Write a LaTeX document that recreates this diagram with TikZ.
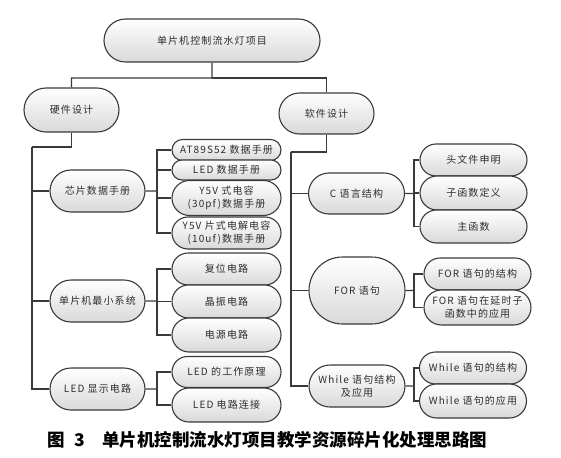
\documentclass[tikz,border=0pt]{standalone}
\usepackage{fontspec}
\setmainfont{Liberation Sans}
\newfontfamily\boxfont[LetterSpace=11]{Noto Sans CJK SC}
\newfontfamily\capfont{Noto Sans CJK SC}
\usetikzlibrary{shapes.misc}
\definecolor{mapLine}{HTML}{3A3A3A}
\definecolor{mapText}{HTML}{2E2E2E}
\definecolor{mapFill}{HTML}{D9D9D9}
\tikzset{
  mapNode/.style={rounded rectangle, draw=mapLine, line width=1.1pt, top color=white, bottom color=mapFill, text=mapText, font=\boxfont\fontsize{10pt}{13pt}\selectfont, align=center, inner xsep=2pt, inner ysep=0pt},
  rootNode/.style={mapNode, minimum width=220pt, minimum height=43pt},
  branchNode/.style={mapNode, minimum width=99pt, minimum height=#1},
  branchNode/.default=42pt,
  leafNode/.style={mapNode, minimum width=113pt, minimum height=#1},
  leafNode/.default=32pt,
  rightLeaf/.style={leafNode=#1, minimum width=111pt},
  link/.style={draw=mapLine, line width=1.1pt}
}

\begin{document}
\begin{tikzpicture}[x=1pt, y=-1pt]
  \useasboundingbox (0,0) rectangle (561,457);

  % Wurzel
  \node[rootNode] (root) at (212,40.5) {单片机控制流水灯项目};
  \node[branchNode=44pt] (hw) at (71.5,110) {硬件设计};
  \node[branchNode=41pt] (sw) at (326.5,113.5) {软件设计};

  % Hardware
  \node[branchNode] (chip) at (97.5,191) {芯片数据手册};
  \node[branchNode] (minsys) at (97.5,301) {单片机最小系统};
  \node[branchNode] (ledsys) at (97.5,389) {LED 显示电路};

  \node[leafNode=21pt] (at89) at (226.5,150) {AT89S52 数据手册};
  \node[leafNode=20pt] (ledman) at (226.5,170) {LED 数据手册};
  \node[leafNode=35pt] (cap30) at (226.5,198) {Y5V 式电容\\(30pf)数据手册};
  \node[leafNode=32pt] (cap10) at (226.5,233) {Y5V 片式电解电容\\(10uf)数据手册};
  \node[leafNode=32pt] (reset) at (226.5,269) {复位电路};
  \node[leafNode=33pt] (xtal) at (226.5,301.5) {晶振电路};
  \node[leafNode=34pt] (power) at (226.5,335) {电源电路};
  \node[leafNode=31pt] (ledwork) at (226.5,372) {LED 的工作原理};
  \node[leafNode=34pt] (ledconn) at (226.5,405) {LED 电路连接};

  % Software
  \node[branchNode=41pt, minimum width=100pt] (clang) at (356.5,193.5) {C 语言结构};
  \node[branchNode=67pt, minimum width=100pt] (forst) at (357,290.5) {FOR 语句};
  \node[branchNode=42pt, minimum width=100pt] (whilest) at (357,386) {While 语句结构\\及应用};

  \node[rightLeaf=32pt] (header) at (473.5,160) {头文件申明};
  \node[rightLeaf=34pt] (subfn) at (473.5,193) {子函数定义};
  \node[rightLeaf=33pt] (mainfn) at (473.5,226.5) {主函数};
  \node[rightLeaf=32pt] (forstruct) at (477.5,274) {FOR 语句的结构};
  \node[rightLeaf=35pt] (fordelay) at (477.5,307.5) {FOR 语句在延时子\\函数中的应用};
  \node[rightLeaf=32pt] (whstruct) at (473,368) {While 语句的结构};
  \node[rightLeaf=34pt] (whuse) at (473,401) {While 语句的应用};

  % Verbindungen
  \coordinate (topbus) at (212,78);
  \coordinate (hwbus) at (32,147);
  \coordinate (swbus) at (291,152);
  \draw[link] (root) -- (topbus) -| (hw);
  \draw[link] (topbus) -| (sw);
  \draw[link] (hw) |- (hwbus);
  \draw[link] (sw) |- (swbus);
  \foreach \n in {chip, minsys, ledsys}
    \draw[link] (hwbus) |- (\n);
  \foreach \n in {clang, forst, whilest}
    \draw[link] (swbus) |- (\n);

  \coordinate (chipfork) at (157,191);
  \coordinate (minfork) at (157,301);
  \coordinate (ledfork) at (157,389);
  \coordinate (cfork) at (414,193.5);
  \coordinate (forfork) at (414,290.5);
  \coordinate (whfork) at (414,386);
  \draw[link] (chip) -- (chipfork);
  \draw[link] (minsys) -- (minfork);
  \draw[link] (ledsys) -- (ledfork);
  \draw[link] (clang) -- (cfork);
  \draw[link] (forst) -- (forfork);
  \draw[link] (whilest) -- (whfork);
  \foreach \n in {at89, ledman, cap30, cap10}
    \draw[link] (chipfork) |- (\n);
  \foreach \n in {reset, xtal, power}
    \draw[link] (minfork) |- (\n);
  \foreach \n in {ledwork, ledconn}
    \draw[link] (ledfork) |- (\n);
  \foreach \n in {header, subfn, mainfn}
    \draw[link] (cfork) |- (\n);
  \foreach \n in {forstruct, fordelay}
    \draw[link] (forfork) |- (\n);
  \foreach \n in {whstruct, whuse}
    \draw[link] (whfork) |- (\n);

  % Bildunterschrift
  \node[anchor=west, inner sep=0pt, font=\capfont\bfseries\fontsize{17.5pt}{18pt}\selectfont] (caption) at (47,440) {图\hspace{10pt}3\hspace{17pt}单片机控制流水灯项目教学资源碎片化处理思路图};
\end{tikzpicture}
\end{document}
